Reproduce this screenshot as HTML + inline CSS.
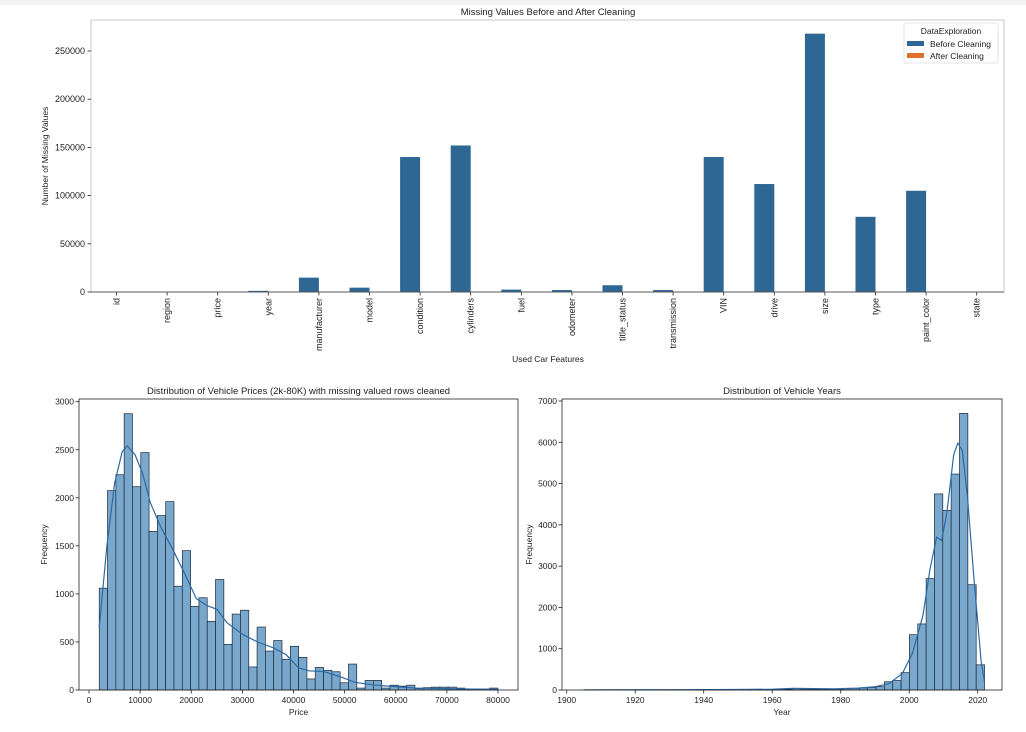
<!DOCTYPE html><html><head><meta charset="utf-8"><style>
html,body{margin:0;padding:0;background:#fff;width:1026px;height:732px;overflow:hidden}
svg{font-family:"Liberation Sans",sans-serif;display:block}
</style></head><body>
<svg id="s" width="1026" height="732" xmlns="http://www.w3.org/2000/svg">
<rect x="0" y="0" width="1026" height="5" fill="#f2f2f2"/>
</svg>
<script>
const S=document.getElementById('s');let h='';
function t(x,y,s,o){o=o||{};h+=`<text x="${x}" y="${y}" font-size="${o.fs||9}" text-anchor="${o.a||'middle'}" fill="#222"${o.tr?` transform="${o.tr}"`:''}>${s}</text>`;}
// top chart
const L=91,R=1004,T=20,B=292,k=241/250000;
const cats=['id','region','price','year','manufacturer','model','condition','cylinders','fuel','odometer','title_status','transmission','VIN','drive','size','type','paint_color','state'];
const vals=[0,0,0,1200,14900,4500,140000,152000,2500,2000,7000,2000,140000,112000,268000,78000,105000,0];
cats.forEach((c,i)=>{const x=116.5+i*50.6;const v=vals[i];
 if(v>0)h+=`<rect x="${x-20}" y="${B-v*k}" width="20" height="${v*k}" fill="#2f6794"/>`;
 h+=`<line x1="${x}" y1="${B}" x2="${x}" y2="${B+3.5}" stroke="#222" stroke-width="0.8"/>`;
 t(x+3,B+6,c,{a:'end',tr:`rotate(-90 ${x+3} ${B+6})`});});
h+=`<rect x="${L}" y="${T}" width="${R-L}" height="${B-T}" fill="none" stroke="#bbb" stroke-width="0.8"/>`;
h+=`<line x1="${L}" y1="${B}" x2="${R}" y2="${B}" stroke="#333" stroke-width="0.8"/>`;
for(let v=0;v<=250000;v+=50000){const y=B-v*k;h+=`<line x1="${L-3.5}" y1="${y}" x2="${L}" y2="${y}" stroke="#222" stroke-width="0.8"/>`;t(L-6,y+3,v,{a:'end'});}
t(548,15,'Missing Values Before and After Cleaning',{fs:9.5});
t(548,362,'Used Car Features',{fs:8.5});
t(48,156,'Number of Missing Values',{fs:8.5,tr:'rotate(-90 48 156)'});
h+=`<rect x="904" y="23" width="94" height="40" fill="#fff" stroke="#ddd" stroke-width="0.8" rx="2"/>`;
t(951,34,'DataExploration',{fs:8.5});
h+=`<rect x="907" y="41" width="17" height="5" fill="#2f6794"/><rect x="907" y="53" width="17" height="5" fill="#e0712c"/>`;
t(930,47,'Before Cleaning',{fs:8.5,a:'start'});t(930,59,'After Cleaning',{fs:8.5,a:'start'});
// hist function
function hist(o){const {L,R,T,B,x0,x1,xs,ymax,yticks,xticks,vals,start,w,kde,title,xl}=o;
 const X=v=>o.px0+(v-x0)*o.sx, Y=v=>B-v*(B-o.ytop)/ymax;
 vals.forEach((v,i)=>{const a=X(start+i*w),b=X(start+(i+1)*w);h+=`<rect x="${a}" y="${Y(v)}" width="${b-a}" height="${B-Y(v)}" fill="#7aa7cc" stroke="#1a2a3a" stroke-width="0.7"/>`;});
 let p='';kde.forEach((q,i)=>{p+=(i?'L':'M')+X(q[0]).toFixed(1)+','+Y(q[1]).toFixed(1);});
 h+=`<path d="${p}" fill="none" stroke="#2a6aa6" stroke-width="1.2"/>`;
 h+=`<rect x="${L}" y="${T}" width="${R-L}" height="${B-T}" fill="none" stroke="#222" stroke-width="0.8"/>`;
 yticks.forEach(v=>{const y=Y(v);h+=`<line x1="${L-3.5}" y1="${y}" x2="${L}" y2="${y}" stroke="#222" stroke-width="0.8"/>`;t(L-5,y+3,v,{a:'end',fs:8.5});});
 xticks.forEach(v=>{const x=X(v);h+=`<line x1="${x}" y1="${B}" x2="${x}" y2="${B+3.5}" stroke="#222" stroke-width="0.8"/>`;t(x,B+13,v,{fs:8.5});});
 t((L+R)/2,T-5,title,{fs:9.5});t((L+R)/2,B+25,xl,{fs:8.5});t(o.ylx,(T+B)/2,'Frequency',{fs:8.5,tr:`rotate(-90 ${o.ylx} ${(T+B)/2})`});}
const pv=[1060,2075,2240,2875,2115,2470,1650,1815,1960,1080,1450,870,960,715,1150,475,790,830,240,655,405,515,320,455,340,115,235,205,190,75,270,20,100,100,20,50,40,50,15,25,30,30,30,20,10,10,10,20];
hist({L:79,R:518,T:399,B:690,x0:0,px0:89,sx:409/80000,ytop:401.7,ymax:3000,yticks:[0,500,1000,1500,2000,2500,3000],xticks:[0,10000,20000,30000,40000,50000,60000,70000,80000],vals:pv,start:2000,w:1625,
kde:[[2000,650],[3500,1500],[5000,2150],[6500,2480],[7500,2540],[9000,2450],[10500,2250],[12000,1950],[14000,1700],[16500,1450],[19000,1180],[21000,950],[23000,880],[25000,840],[27000,700],[30000,580],[33000,500],[36000,440],[38500,370],[41000,230],[43000,200],[46000,190],[49000,140],[52000,80],[56000,50],[60000,35],[64000,20],[70000,15],[76000,8],[80000,5]],
title:'Distribution of Vehicle Prices (2k-80K) with missing valued rows cleaned',xl:'Price',ylx:47});
const yv=new Array(48).fill(3);
[[0,2],[22,10],[23,15],[24,25],[25,20],[26,30],[27,25],[28,20],[29,15],[30,20],[31,25],[32,30],[33,40],[34,50],[35,60],[36,80],[37,200],[38,230],[39,420],[40,1340],[41,1600],[42,2700],[43,4750],[44,4350],[45,5230],[46,6700],[47,2550]].forEach(q=>yv[q[0]]=q[1]);
yv.push(610);yv.shift();
// recompute: 48 bins starting 1905 width 2.4375
hist({L:562,R:1002,T:399,B:690,x0:1900,px0:566.7,sx:411/120,ytop:401,ymax:7000,yticks:[0,1000,2000,3000,4000,5000,6000,7000],xticks:[1900,1920,1940,1960,1980,2000,2020],vals:yv,start:1905,w:117/48,
kde:[[1905,5],[1930,8],[1950,12],[1960,20],[1966,40],[1972,35],[1978,30],[1985,45],[1990,80],[1994,150],[1998,400],[2001,900],[2004,1800],[2006,2900],[2008,3700],[2009.5,3620],[2011,4300],[2013,5700],[2014.2,5980],[2015.5,5800],[2017,4700],[2019,2600],[2021,700],[2022,200]],
title:'Distribution of Vehicle Years',xl:'Year',ylx:532});
S.innerHTML+=h;
</script></body></html>
